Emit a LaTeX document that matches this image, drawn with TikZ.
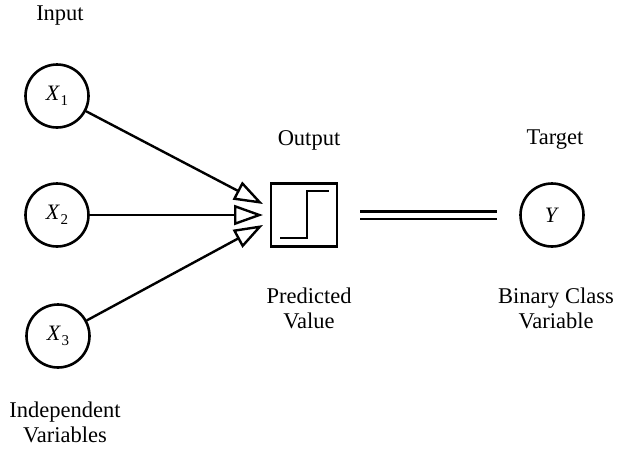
\documentclass[tikz,border=0pt]{standalone}
\usepackage{fontspec}
\setmainfont{Liberation Serif}
\usetikzlibrary{arrows.meta}
\newcommand{\vsub}[2]{\textit{#1}\kern0.02em\raisebox{-0.22em}{\fontsize{15}{15}\selectfont #2}}
\begin{document}
\begin{tikzpicture}[x=1pt,y=-1pt,
  lbl/.style={font=\fontsize{22.5}{25}\selectfont, align=center, inner sep=0pt},
  var/.style={circle, draw, line width=2.6pt, minimum size=63pt, inner sep=0pt, font=\fontsize{22}{22}\selectfont},
  conn/.style={line width=2.4pt, -{Triangle[open, length=29pt, width=20pt, line width=2.4pt]}},
  dbl/.style={line width=2.6pt, double distance=5pt}]
\useasboundingbox (0,0) rectangle (620,456);
\fill[white] (0,0) rectangle (620,456);
% nodes
\node[var] (x1) at (57,96) {\vsub{X}{1}};
\node[var] (x2) at (57,215) {\vsub{X}{2}};
\node[var] (x3) at (58,336) {\vsub{X}{3}};
\node[draw, line width=2.6pt, minimum width=66pt, minimum height=63pt, inner sep=0pt] (box) at (304,215) {};
\node[var] (y) at (552,215) {\textit{Y}};
% step function
\draw[line width=2.6pt] (280,238) -- (307,238) -- (307,191) -- (329,191);
% arrow tips
\coordinate (t1) at (263,204);
\coordinate (t2) at (263,215);
\coordinate (t3) at (263,225);
\draw[conn] (x1) -- (t1);
\draw[conn] (x2) -- (t2);
\draw[conn] (x3) -- (t3);
% double line
\draw[dbl, shorten <=22pt, shorten >=22pt] (box.east) -- (y.west);
% labels
\node[lbl] (inp) at (60,16) {Input};
\node[lbl] (outl) at (309,140) {Output};
\node[lbl] (tgt) at (555,140) {Target};
\node[lbl] (pred) at (309,308) {Predicted\\Value};
\node[lbl] (bin) at (556,308) {Binary Class\\Variable};
\node[lbl] (ind) at (65,422) {Independent\\Variables};
\end{tikzpicture}
\end{document}
